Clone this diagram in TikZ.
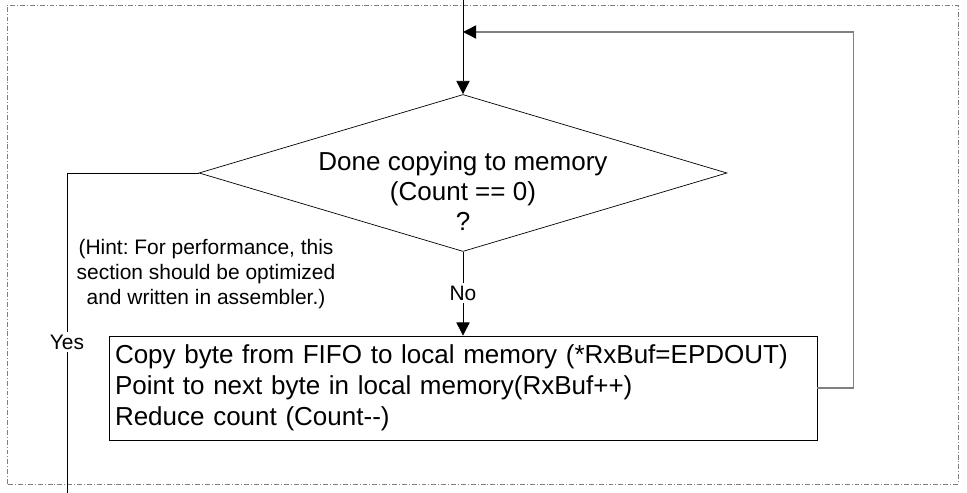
\documentclass[tikz,border=0pt]{standalone}
\usepackage{fontspec}
\setmainfont{Liberation Sans}
\usepackage{tikz}
\usetikzlibrary{arrows.meta, positioning, shapes.geometric}
\frenchspacing

\begin{document}
\begin{tikzpicture}[
  tip/.style={-{Triangle[length=0.33cm, width=0.33cm, color=black]}},
  flow/.style={line width=0.5pt, black},
  feedback/.style={line width=1pt, gray},
  frame/.style={line width=0.6pt, gray, dash pattern=on 3.5pt off 1.4pt on 0.7pt off 1.4pt},
  decision/.style={draw, shape=diamond, minimum width=13.2cm, minimum height=3.925cm, inner sep=0pt, line width=0.5pt},
  process/.style={draw, rectangle, line width=0.5pt, minimum width=17.7cm, minimum height=2.6cm,
    text width=17.4cm, inner xsep=0.15cm, align=left, font=\fontsize{18.5pt}{22pt}\selectfont},
  bigtext/.style={align=center, inner sep=0pt, font=\fontsize{18.5pt}{21.3pt}\selectfont},
  smalltext/.style={align=center, fill=white, inner sep=2pt, font=\fontsize{14.9pt}{17.8pt}\selectfont}
]
\useasboundingbox (0,0) rectangle (24.175,12.325);

% dash-dot border
\draw[frame] (0.175,0.225) rectangle (23.95,12.2);

% decision
\node[decision] (done) at (11.575,8) {};
\node[bigtext] (donetxt) at ([yshift=-0.45cm]done.center)
  {Done copying to memory\\(Count == 0)\\?};

% copy step
\node[process] (copy) at (11.575,2.625)
  {Copy byte from FIFO to local memory (*RxBuf=EPDOUT)\\
   Point to next byte in local memory(RxBuf++)\\
   Reduce count (Count-{}-)};

% labels
\node[smalltext] (hint) at (5.15,5.475)
  {(Hint: For performance, this\\section should be optimized\\and written in assembler.)};
\node[smalltext] (no) at (11.575,5.0) {No};
\node[smalltext] (yes) at (1.675,3.775) {Yes};

\coordinate (entry) at (11.575,12.325);
\coordinate (join) at (11.575,11.525);
\coordinate (exit) at (1.675,0);

% connectors
\draw[flow, tip] (entry) -- (done.north);
\draw[flow] (done.south) -- (no.north);
\draw[flow, tip] (no.south) -- (copy.north);
\draw[feedback, tip] (copy.east) -- ++(0.9,0) |- (join);
\draw[flow] (done.west) -| (yes.north);
\draw[flow] (yes.south) -- (exit);
\end{tikzpicture}
\end{document}
